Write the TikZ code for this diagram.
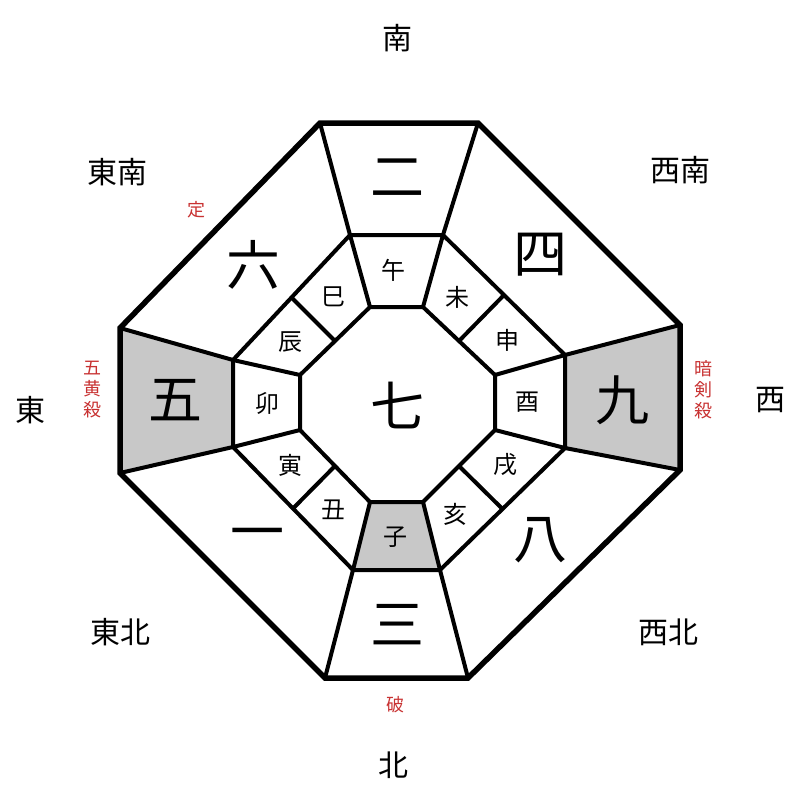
\documentclass[tikz,border=0pt]{standalone}
\usepackage{fontspec}
\usetikzlibrary{calc}
\newfontfamily\cjk{Noto Sans CJK JP}
\definecolor{cell}{RGB}{200,200,200}
\definecolor{redt}{RGB}{200,50,50}
\begin{document}
\begin{tikzpicture}[x=1pt,y=-1pt,
  big/.style={font=\cjk\fontsize{54}{56}\selectfont},
  zod/.style={font=\cjk\fontsize{24}{26}\selectfont},
  dir/.style={font=\cjk\fontsize{30}{32}\selectfont},
  red/.style={font=\cjk\fontsize{18}{21}\selectfont,text=redt,align=center},
  ln/.style={line width=4pt,line join=miter}]
\useasboundingbox (0,0) rectangle (800,800);
% gray cells
\fill[cell] (120,328) -- (233,360) -- (233,447) -- (120,473) -- cycle;
\fill[cell] (680,325) -- (565,355) -- (565,448) -- (680,470) -- cycle;
\fill[cell] (353,570) -- (440,570) -- (423,502) -- (370,502) -- cycle;
% coordinates
\coordinate (O1) at (320,123); \coordinate (O2) at (478,123); \coordinate (O3) at (680,325); \coordinate (O4) at (680,470);
\coordinate (O5) at (468,678); \coordinate (O6) at (325,678); \coordinate (O7) at (120,473); \coordinate (O8) at (120,328);
\coordinate (M1) at (350,235); \coordinate (M2) at (443,235); \coordinate (M3) at (565,355); \coordinate (M4) at (565,448);
\coordinate (M5) at (440,570); \coordinate (M6) at (353,570); \coordinate (M7) at (233,447); \coordinate (M8) at (233,360);
\coordinate (I1) at (370,307); \coordinate (I2) at (423,307); \coordinate (I3) at (495,375); \coordinate (I4) at (495,430);
\coordinate (I5) at (423,502); \coordinate (I6) at (370,502); \coordinate (I7) at (300,430); \coordinate (I8) at (300,375);
\draw[line width=5.5pt,line join=miter] (O1)--(O2)--(O3)--(O4)--(O5)--(O6)--(O7)--(O8)--cycle;
\draw[ln] (M1)--(M2)--(M3)--(M4)--(M5)--(M6)--(M7)--(M8)--cycle;
\draw[ln] (I1)--(I2)--(I3)--(I4)--(I5)--(I6)--(I7)--(I8)--cycle;
\foreach \i in {1,...,8}{\draw[ln] (O\i)--(M\i); \draw[ln] (M\i)--(I\i);}
\draw[ln] ($(M2)!0.5!(M3)$) -- ($(I2)!0.5!(I3)$);
\draw[ln] ($(M4)!0.5!(M5)$) -- ($(I4)!0.5!(I5)$);
\draw[ln] ($(M6)!0.5!(M7)$) -- ($(I6)!0.5!(I7)$);
\draw[ln] ($(M8)!0.5!(M1)$) -- ($(I8)!0.5!(I1)$);
% big numerals
\node[big] (n2) at (397,178) {二};
\node[big] (n4) at (540,255) {四};
\node[big] (n9) at (622,400) {九};
\node[big] (n8) at (540,540) {八};
\node[big] (n3) at (397,625) {三};
\node[big] (n1) at (257,540) {一};
\node[big] (n5) at (175,400) {五};
\node[big] (n6) at (253,265) {六};
\node[big] (n7) at (397,405) {七};
% zodiac
\node[zod] (z1) at (393,270) {午};
\node[zod] (z2) at (457,297) {未};
\node[zod] (z3) at (507,340) {申};
\node[zod] (z4) at (527,402) {酉};
\node[zod] (z5) at (505,465) {戌};
\node[zod] (z6) at (455,514) {亥};
\node[zod] (z7) at (395,537) {子};
\node[zod] (z8) at (333,510) {丑};
\node[zod] (z9) at (290,465) {寅};
\node[zod] (z10) at (267,403) {卯};
\node[zod] (z11) at (290,342) {辰};
\node[zod] (z12) at (333,297) {巳};
% directions
\node[dir] (d1) at (397,38) {南};
\node[dir] (d2) at (680,170) {西南};
\node[dir] (d3) at (770,400) {西};
\node[dir] (d4) at (668,632) {西北};
\node[dir] (d5) at (393,765) {北};
\node[dir] (d6) at (120,632) {東北};
\node[dir] (d7) at (30,410) {東};
\node[dir] (d8) at (117,172) {東南};
% red labels
\node[red] (r1) at (196,210) {定};
\node[red] (r2) at (92,390) {五\\黄\\殺};
\node[red] (r3) at (703,390) {暗\\剣\\殺};
\node[red] (r4) at (395,705) {破};
\end{tikzpicture}
\end{document}
